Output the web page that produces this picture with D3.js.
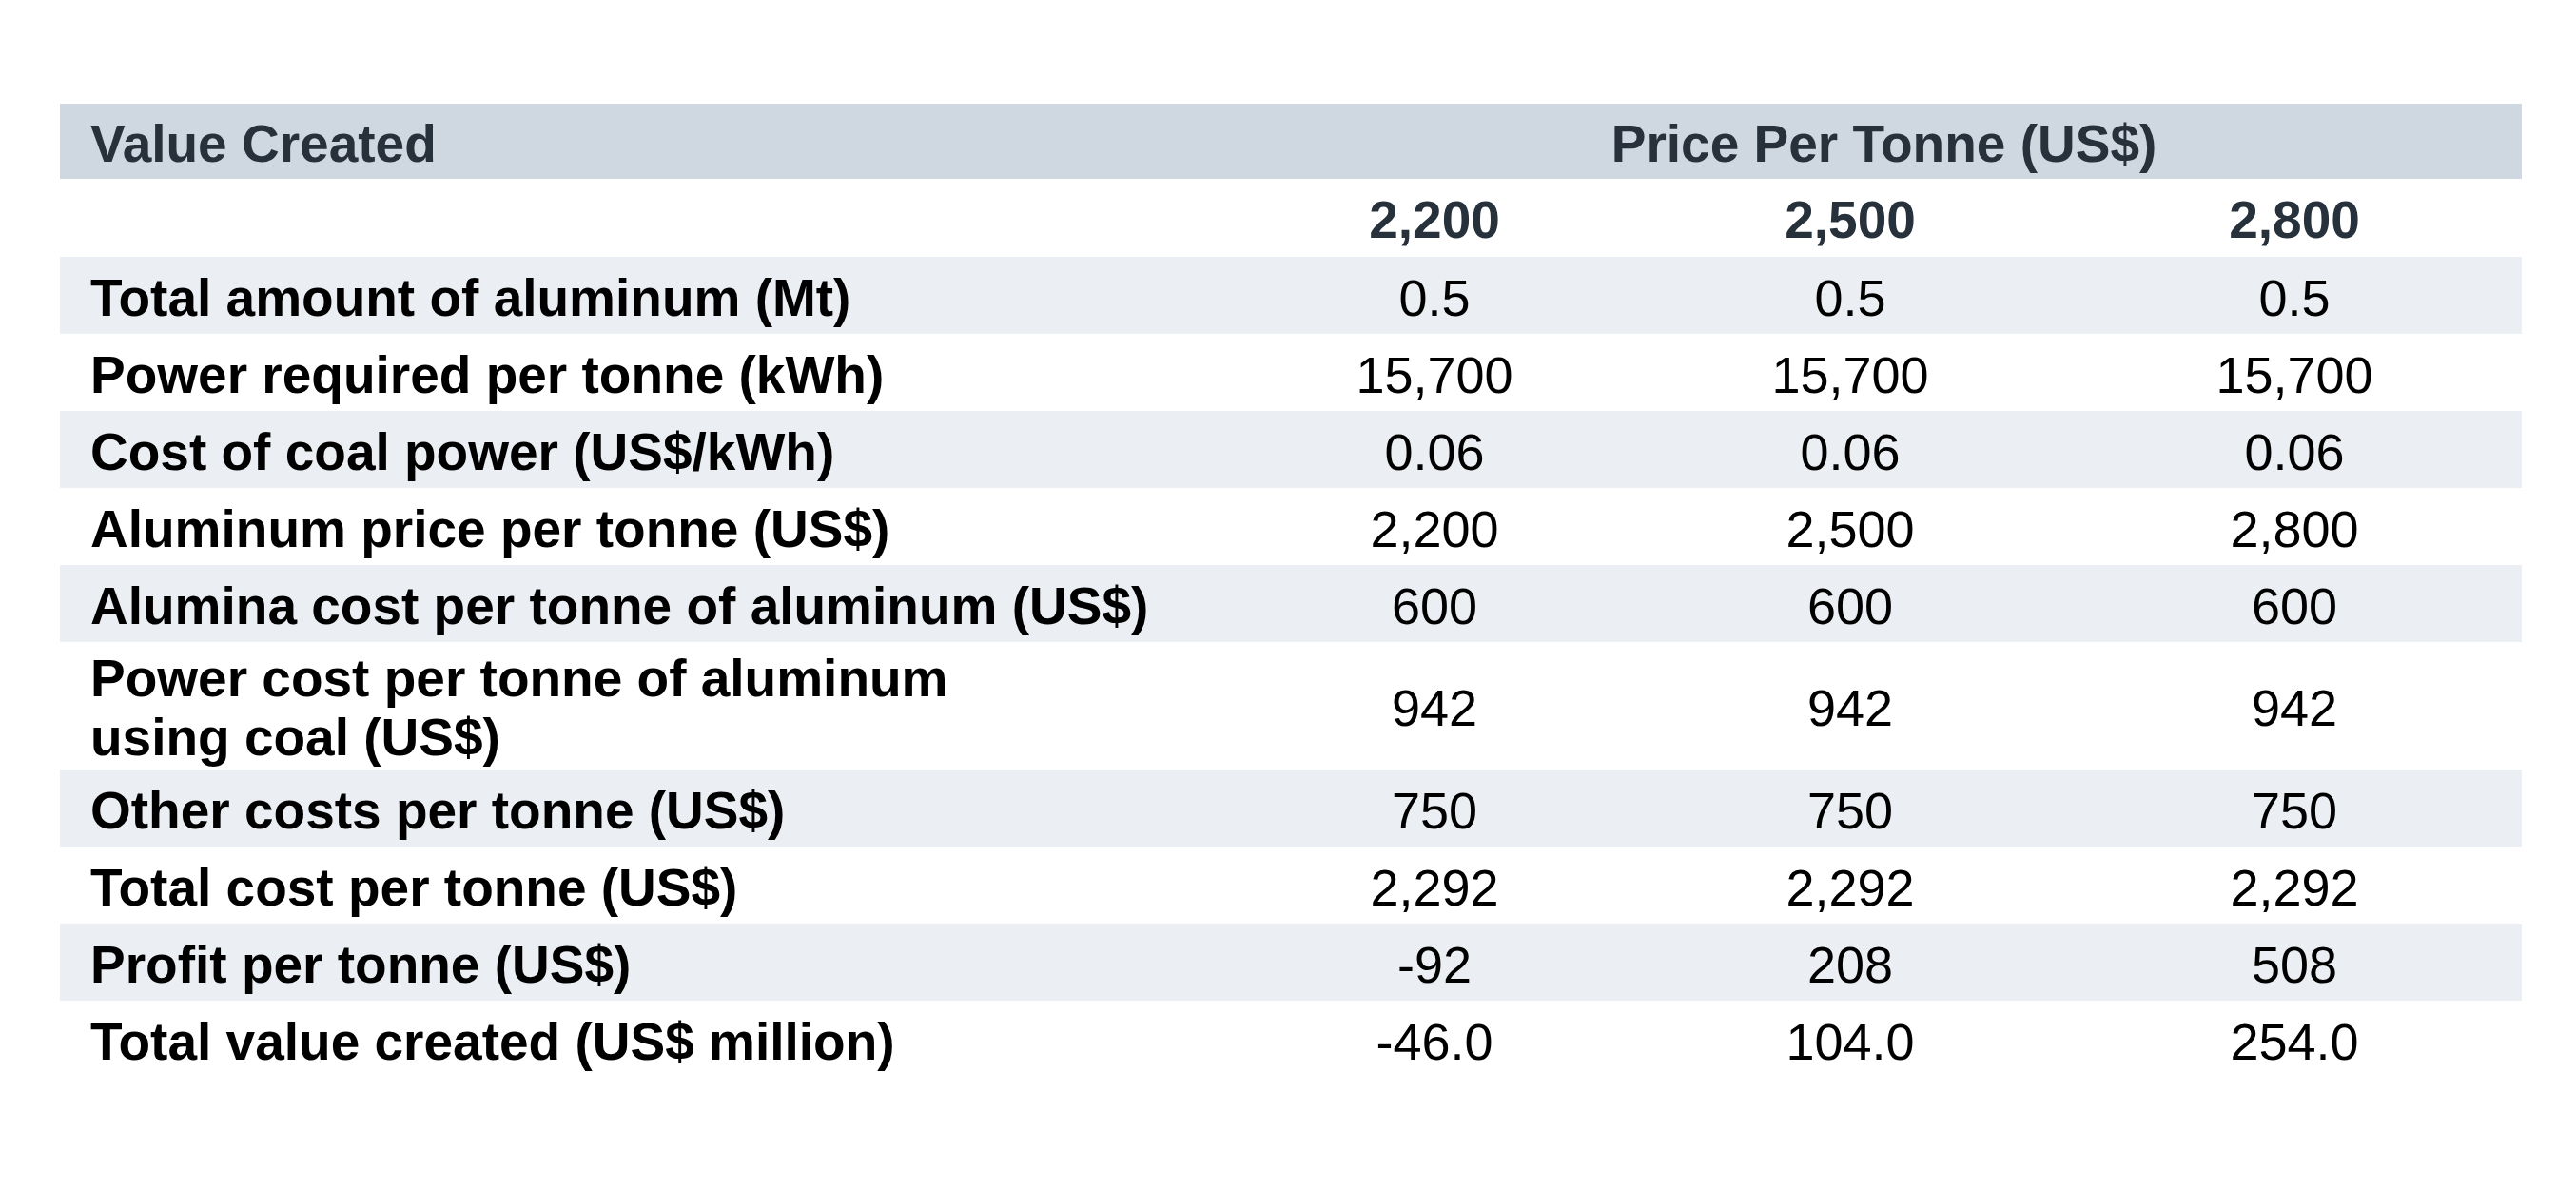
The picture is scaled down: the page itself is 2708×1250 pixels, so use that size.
<!DOCTYPE html>
<html>
<head>
<meta charset="utf-8">
<script src="https://cdn.jsdelivr.net/npm/d3@7"></script>
<style>
  html, body { margin: 0; padding: 0; background: #ffffff; }
  svg { display: block; }
  text { font-family: "Liberation Sans", Arial, "Helvetica", sans-serif; }
</style>
</head>
<body>
<svg id="chart" width="2708" height="1250"></svg>
<script>
// ---- DATA ----
const tableTitle = "Value Created";
const groupTitle = "Price Per Tonne (US$)";
const priceColumns = [2200, 2500, 2800];
const rowLabels = [
  ["Total amount of aluminum (Mt)"],
  ["Power required per tonne (kWh)"],
  ["Cost of coal power (US$/kWh)"],
  ["Aluminum price per tonne (US$)"],
  ["Alumina cost per tonne of aluminum (US$)"],
  ["Power cost per tonne of aluminum", "using coal (US$)"],
  ["Other costs per tonne (US$)"],
  ["Total cost per tonne (US$)"],
  ["Profit per tonne (US$)"],
  ["Total value created (US$ million)"]
];
const rowFormats = [".1f", ",d", ".2f", ",d", ",d", ",d", ",d", ",d", ",d", ".1f"];
const values2200 = [0.5, 15700, 0.06, 2200, 600, 942, 750, 2292, -92, -46.0];
const values2500 = [0.5, 15700, 0.06, 2500, 600, 942, 750, 2292, 208, 104.0];
const values2800 = [0.5, 15700, 0.06, 2800, 600, 942, 750, 2292, 508, 254.0];
const seriesValues = [values2200, values2500, values2800];

// ---- LAYOUT ----
const svg = d3.select("#chart");
const locale = d3.formatLocale({decimal: ".", thousands: ",", grouping: [3], currency: ["$", ""], minus: "-"});
const fs = 55;
const bodyFs = 54;
const left = 63, right = 2651, labelX = 95;
const headerTop = 109, headerH = 79, subH = 82;
const singleH = 81, doubleH = 134, lineGap = 62;
const baseOff = 21;

const headBg = "#cfd8e1", stripeBg = "#ebeef2", headText = "#27313b";

// x scale for value columns
const x = d3.scaleOrdinal().domain(priceColumns).range([1508, 1945, 2412]);
const groupX = d3.scaleLinear().domain([0, 1]).range([1310, 2651]);

// y positions from cumulative row heights
const heights = rowLabels.map(l => l.length > 1 ? doubleH : singleH);
const bodyTop = headerTop + headerH + subH;
const ends = Array.from(d3.cumsum(heights));
const y = d3.scaleOrdinal().domain(d3.range(rowLabels.length))
  .range(ends.map((e, i) => bodyTop + e - heights[i]));

// header band
svg.append("rect").attr("x", left).attr("y", headerTop)
  .attr("width", right - left).attr("height", headerH).attr("fill", headBg);
svg.append("text").attr("x", labelX).attr("y", headerTop + headerH / 2 + baseOff)
  .attr("font-size", fs).attr("font-weight", "bold").attr("fill", headText).text(tableTitle);
svg.append("text").attr("x", groupX(0.5)).attr("y", headerTop + headerH / 2 + baseOff)
  .attr("text-anchor", "middle")
  .attr("font-size", fs).attr("font-weight", "bold").attr("fill", headText).text(groupTitle);

// sub header (price columns)
const subY = headerTop + headerH;
svg.selectAll("text.colhead").data(priceColumns).join("text")
  .attr("class", "colhead")
  .attr("x", d => x(d)).attr("y", subY + subH / 2 + baseOff)
  .attr("text-anchor", "middle").attr("font-size", fs).attr("font-weight", "bold")
  .attr("fill", headText).text(d => locale.format(",d")(d));

// stripes
svg.selectAll("rect.stripe").data(d3.range(rowLabels.length).filter(i => i % 2 === 0)).join("rect")
  .attr("class", "stripe")
  .attr("x", left).attr("y", i => y(i)).attr("width", right - left)
  .attr("height", i => heights[i]).attr("fill", stripeBg);

// row labels
const rows = svg.selectAll("g.row").data(rowLabels.map((l, i) => ({l, i}))).join("g").attr("class", "row");
rows.each(function(d) {
  const g = d3.select(this);
  const c = y(d.i) + heights[d.i] / 2;
  const n = d.l.length;
  d.l.forEach((line, k) => {
    g.append("text")
      .attr("x", labelX)
      .attr("y", c + baseOff + (k - (n - 1) / 2) * lineGap)
      .attr("font-size", fs).attr("font-weight", "bold").attr("fill", "#000")
      .text(line);
  });
  priceColumns.forEach((p, j) => {
    g.append("text")
      .attr("x", x(p)).attr("y", c + baseOff)
      .attr("text-anchor", "middle").attr("font-size", bodyFs).attr("fill", "#000")
      .text(locale.format(rowFormats[d.i])(seriesValues[j][d.i]));
  });
});
</script>
</body>
</html>
